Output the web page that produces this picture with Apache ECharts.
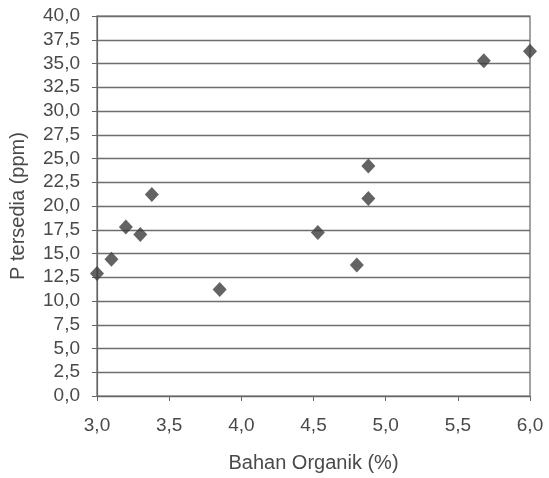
<!DOCTYPE html>
<html><head><meta charset="utf-8">
<script src="https://cdn.jsdelivr.net/npm/echarts@6/dist/echarts.min.js"></script>
<style>html,body{margin:0;padding:0;background:#fff}#c{width:549px;height:478px}</style>
</head><body><div id="c"></div>
<script>
const bahanOrganik = [3.0, 3.1, 3.2, 3.3, 3.38, 3.85, 4.53, 4.80, 4.88, 4.88, 5.68, 6.0];
const pTersedia   = [12.9, 14.4, 17.8, 17.0, 21.2, 11.2, 17.2, 13.8, 20.8, 24.2, 35.3, 36.3];
const xName = 'Bahan Organik (%)';
const yName = 'P tersedia (ppm)';
const fmt = v => v.toFixed(1).replace('.', ',');

const chart = echarts.init(document.getElementById('c'));
const txt = '#4a4a4a';
chart.setOption({
  animation: false,
  grid: {left: 95, right: 19, top: 16, bottom: 80, show: true, borderColor: '#666', borderWidth: 1.2},
  xAxis: {
    type: 'value', min: 3, max: 6, interval: 0.5,
    name: xName, nameLocation: 'middle', nameGap: 57,
    nameTextStyle: {fontFamily: 'Liberation Sans', fontSize: 20, color: txt},
    axisLine: {show: true, lineStyle: {color: '#666', width: 1.2}},
    axisTick: {show: true, inside: false, length: 5, lineStyle: {color: '#666'}},
    splitLine: {show: false},
    axisLabel: {formatter: fmt, margin: 20, fontFamily: 'Liberation Sans', fontSize: 19, color: txt}
  },
  yAxis: {
    type: 'value', min: 0, max: 40, interval: 2.5,
    name: yName, nameLocation: 'middle', nameGap: 69, nameRotate: 90,
    nameTextStyle: {fontFamily: 'Liberation Sans', fontSize: 20, color: txt},
    axisLine: {show: true, lineStyle: {color: '#666', width: 1.2}},
    axisTick: {show: true, inside: false, length: 5, lineStyle: {color: '#666'}},
    splitLine: {show: true, lineStyle: {color: '#6e6e6e', width: 1.3}},
    axisLabel: {formatter: fmt, margin: 17, fontFamily: 'Liberation Sans', fontSize: 19, color: txt}
  },
  series: [{
    type: 'scatter',
    symbol: 'diamond',
    symbolSize: [14, 15],
    itemStyle: {color: '#3c3c3c'},
    data: bahanOrganik.map((x, i) => [x, pTersedia[i]])
  }]
});
</script></body></html>
